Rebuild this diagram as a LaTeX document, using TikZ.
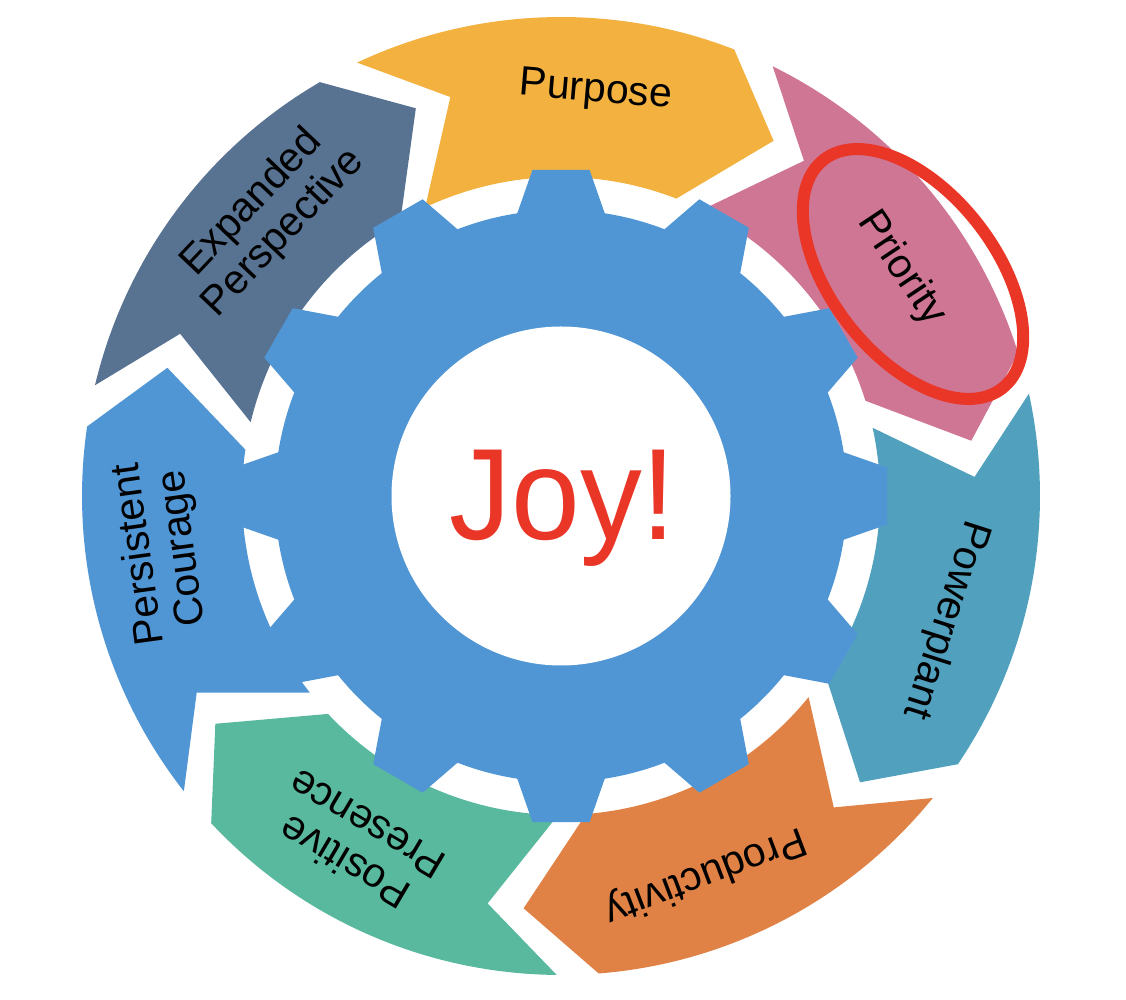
\documentclass[tikz,border=0pt]{standalone}
\usepackage{fontspec}
\setmainfont{Liberation Sans}
\newfontfamily\joyfont[FakeStretch=0.95]{Liberation Sans}
\definecolor{gearblue}{RGB}{81,150,212}
\definecolor{cPurpose}{RGB}{243,178,64}
\definecolor{cPriority}{RGB}{207,118,148}
\definecolor{cPower}{RGB}{81,161,190}
\definecolor{cProd}{RGB}{224,130,69}
\definecolor{cPos}{RGB}{89,185,158}
\definecolor{cPers}{RGB}{81,150,212}
\definecolor{cExp}{RGB}{88,114,145}
\definecolor{joyred}{RGB}{233,54,39}
\begin{document}
\begin{tikzpicture}[x=1pt,y=1pt,
  lbl/.style={font=\fontsize{41}{44}\selectfont, text=black, align=center, inner sep=0pt},
  joytext/.style={font=\joyfont\fontsize{130}{130}\selectfont, text=joyred, inner sep=0pt},
  ringseg/.style={draw=none},
  gearfill/.style={fill=gearblue, draw=none},
  mark ellipse/.style={draw=joyred, line width=12pt}]
\useasboundingbox (0,0) rectangle (1126,1000);
\coordinate (C) at (561,504);
\begin{scope}[shift={(561,504)}]
  % ring of seven circular chevron arrows
  \foreach \i/\col in {0/cPurpose,1/cPriority,2/cPower,3/cProd,4/cPos,5/cPers,6/cExp} {
    \pgfmathsetmacro\ta{92-51.4286*\i+23.2}
    \pgfmathsetmacro\tb{92-51.4286*\i-23.2}
    \pgfmathsetmacro\tt{\tb-9.7}
    \pgfmathsetmacro\tn{\ta-9.7}
    \fill[ringseg, \col] (\ta:479) arc[start angle=\ta, end angle=\tb, radius=479]
      -- (\tt:414) -- (\tb:319) arc[start angle=\tb, end angle=\ta, radius=319]
      -- (\tn:414) -- cycle;
  }
  % gear
  \fill[gearfill] (0,0) circle[radius=286];
  \foreach \k in {0,...,11} {
    \fill[gearfill, rotate=\k*30] (80.5:280) -- (81.2:286) -- (85:327.4)
      -- (95:327.4) -- (98.8:286) -- (99.5:280) -- cycle;
  }
  \fill[white] (0,0) circle[radius=169.5];
  % labels
  \node[lbl, rotate=-4.9] (purpose) at (85.1:406) {Purpose};
  \node[lbl, rotate=-56.3] (priority) at (33.7:409) {Priority};
  \node[lbl, rotate=-107.8] (powerplant) at (-17.8:404) {Powerplant};
  \node[lbl, rotate=-159.2] (productivity) at (-69.2:405) {Productivity};
  \node[lbl, rotate=149.4] (positive) at (-120.6:404) {Positive\\Presence};
  \node[lbl, rotate=97.9] (persistent) at (187.9:403) {Persistent\\Courage};
  \node[lbl, rotate=46.5] (expanded) at (136.5:404) {Expanded\\Perspective};
  \node[joytext, anchor=base] (joy) at (2,-43.4) {Joy!};
\end{scope}
\draw[mark ellipse, shift={(913,726)}, rotate=-52] (0,0) ellipse[x radius=145, y radius=82];
\end{tikzpicture}
\end{document}
